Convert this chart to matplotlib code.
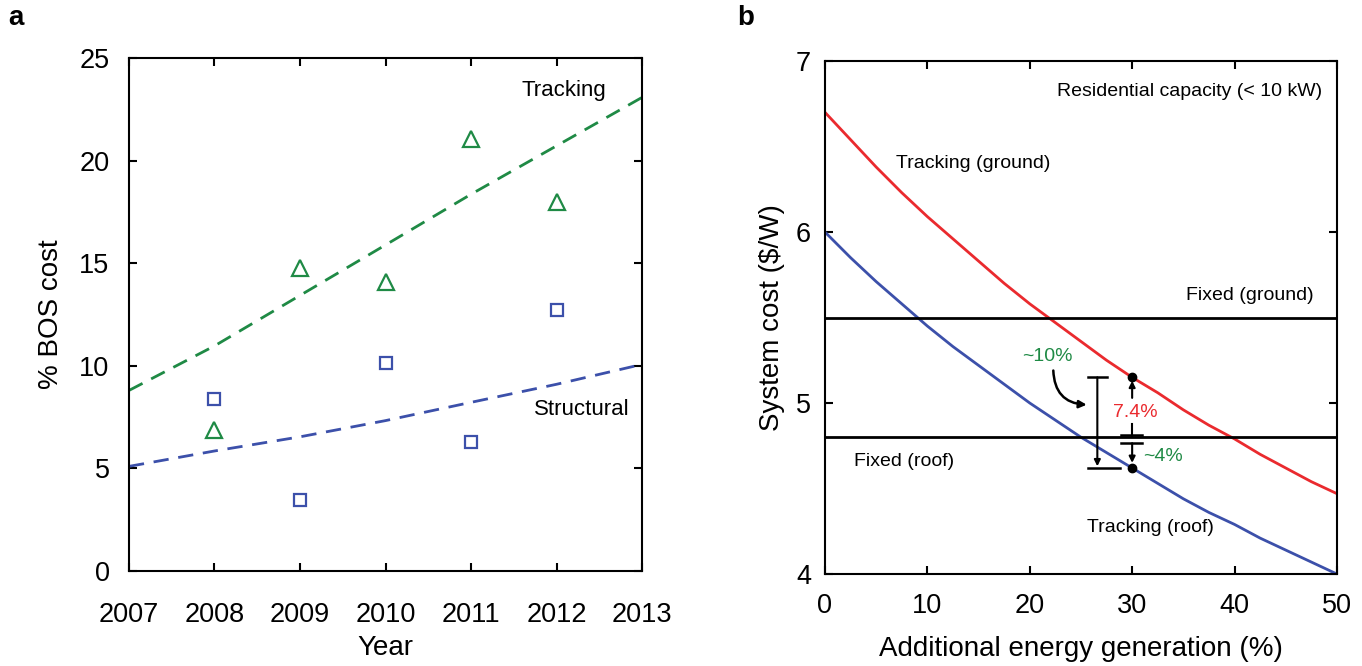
import matplotlib
matplotlib.use("Agg")
import matplotlib.pyplot as plt

plt.rcParams["font.family"] = ["Liberation Sans", "DejaVu Sans"]

# panel a data
years = [2008, 2009, 2010, 2011, 2012]
tracking_pts = [6.87, 14.77, 14.08, 21.05, 17.98]
structural_pts = [8.38, 3.46, 10.14, 6.29, 12.72]
trend_years = [2007, 2008, 2009, 2010, 2011, 2012, 2013]
tracking_trend = [8.8, 10.97, 13.43, 15.89, 18.36, 20.72, 23.08]
structural_trend = [5.1, 5.85, 6.54, 7.33, 8.22, 9.1, 10.07]

# panel b data
gen = [0, 2.5, 5, 7.5, 10, 12.5, 15, 17.5, 20, 22.5, 25,
       27.5, 30, 32.5, 35, 37.5, 40, 42.5, 45, 47.5, 50]
track_ground = [6.70, 6.54, 6.38, 6.23, 6.09, 5.96, 5.83, 5.70, 5.58, 5.47, 5.36,
                5.25, 5.15, 5.06, 4.96, 4.87, 4.79, 4.70, 4.62, 4.54, 4.47]
track_roof = [6.00, 5.85, 5.71, 5.58, 5.45, 5.33, 5.22, 5.11, 5.00, 4.90, 4.80,
              4.71, 4.62, 4.53, 4.44, 4.36, 4.29, 4.21, 4.14, 4.07, 4.00]
fixed_ground = 5.5
fixed_roof = 4.8

GREEN = "#1f8a45"
BLUE = "#3c50aa"
RED = "#ea2a2e"

fig = plt.figure(figsize=(13.62, 6.66), dpi=100)
ax1 = fig.add_axes([0.0947, 0.1426, 0.3767, 0.7703])
ax2 = fig.add_axes([0.6057, 0.1381, 0.3759, 0.7703])

for ax in (ax1, ax2):
    for s in ax.spines.values():
        s.set_linewidth(1.5)
    ax.tick_params(direction="in", length=6, width=1.5, top=True, right=True,
                   labelsize=19.5)

# ---- panel a
ax1.plot(trend_years, tracking_trend, "--", color=GREEN, lw=2, dashes=(5.5, 3.5))
ax1.plot(trend_years, structural_trend, "--", color=BLUE, lw=2, dashes=(5.5, 3.5))
ax1.plot(years, tracking_pts, "^", ms=11, mfc="none", mec=GREEN, mew=1.6)
ax1.plot(years, structural_pts, "s", ms=9, mfc="none", mec=BLUE, mew=1.6)
ax1.set_xlim(2007, 2013)
ax1.set_ylim(0, 25)
ax1.set_xticks(trend_years)
ax1.set_yticks([0, 5, 10, 15, 20, 25])
ax1.tick_params(axis="x", pad=22)
ax1.tick_params(axis="y", pad=14)
ax1.set_xlabel("Year", fontsize=20, labelpad=5)
ax1.set_ylabel("% BOS cost", fontsize=20, labelpad=11)
ax1.text(2012.09, 23.4, "Tracking", fontsize=16, ha="center", va="center")
ax1.text(2012.29, 7.85, "Structural", fontsize=16, ha="center", va="center")

# ---- panel b
ax2.plot(gen, track_ground, color=RED, lw=2)
ax2.plot(gen, track_roof, color=BLUE, lw=2)
ax2.axhline(fixed_ground, color="black", lw=2)
ax2.axhline(fixed_roof, color="black", lw=2)
ax2.set_xlim(0, 50)
ax2.set_ylim(4, 7)
ax2.set_xticks([0, 10, 20, 30, 40, 50])
ax2.set_yticks([4, 5, 6, 7])
ax2.tick_params(axis="x", pad=14)
ax2.tick_params(axis="y", pad=10)
ax2.set_xlabel("Additional energy generation (%)", fontsize=20, labelpad=12)
ax2.set_ylabel("System cost ($/W)", fontsize=20, labelpad=8)

ax2.text(35.6, 6.82, "Residential capacity (< 10 kW)", fontsize=14, ha="center", va="center")
ax2.text(14.5, 6.40, "Tracking (ground)", fontsize=14, ha="center", va="center")
ax2.text(41.5, 5.63, "Fixed (ground)", fontsize=14, ha="center", va="center")
ax2.text(7.7, 4.66, "Fixed (roof)", fontsize=14, ha="center", va="center")
ax2.text(31.8, 4.27, "Tracking (roof)", fontsize=14, ha="center", va="center")

# annotation at 30 %
x0 = 30
yg = track_ground[gen.index(x0)]
yr = track_roof[gen.index(x0)]
ax2.plot([x0, x0], [yg, yr], "o", color="black", ms=6)
ax2.annotate("", xy=(x0, yg - 0.02), xytext=(x0, 5.03),
             arrowprops=dict(arrowstyle="-|>", color="black", lw=1.5,
                             mutation_scale=9, shrinkA=0, shrinkB=0))
ax2.text(x0 + 0.3, 4.945, "7.4%", color=RED, fontsize=14, ha="center", va="center")
ax2.plot([x0, x0], [4.81, 4.88], color="black", lw=1.5)
ax2.plot([28.9, 31.0], [4.815, 4.815], color="black", lw=1.8)
ax2.plot([28.9, 31.0], [4.765, 4.765], color="black", lw=1.8)
ax2.annotate("", xy=(x0, yr + 0.03), xytext=(x0, 4.765),
             arrowprops=dict(arrowstyle="-|>", color="black", lw=1.5,
                             mutation_scale=9, shrinkA=0, shrinkB=0))
ax2.text(33.0, 4.69, "~4%", color=GREEN, fontsize=14, ha="center", va="center")

# I-beam for ~10 %
xb = 26.6
ax2.plot([25.66, 27.56], [yg, yg], color="black", lw=1.8)
ax2.plot([25.66, 28.8], [yr, yr], color="black", lw=1.8)
ax2.annotate("", xy=(xb, yr + 0.01), xytext=(xb, yg),
             arrowprops=dict(arrowstyle="-|>", color="black", lw=1.5,
                             mutation_scale=9, shrinkA=0, shrinkB=0))
ax2.annotate("", xy=(25.56, 4.99), xytext=(22.3, 5.19),
             arrowprops=dict(arrowstyle="-|>", color="black", lw=1.8,
                             mutation_scale=11, shrinkA=0, shrinkB=0,
                             connectionstyle="arc3,rad=0.45"))
ax2.text(21.7, 5.27, "~10%", color=GREEN, fontsize=14, ha="center", va="center")

fig.text(8 / 1362, 1 - 18 / 666, "a", fontsize=20, fontweight="bold", ha="left", va="center")
fig.text(737 / 1362, 1 - 18 / 666, "b", fontsize=20, fontweight="bold", ha="left", va="center")

fig.savefig("out.png", dpi=100)
